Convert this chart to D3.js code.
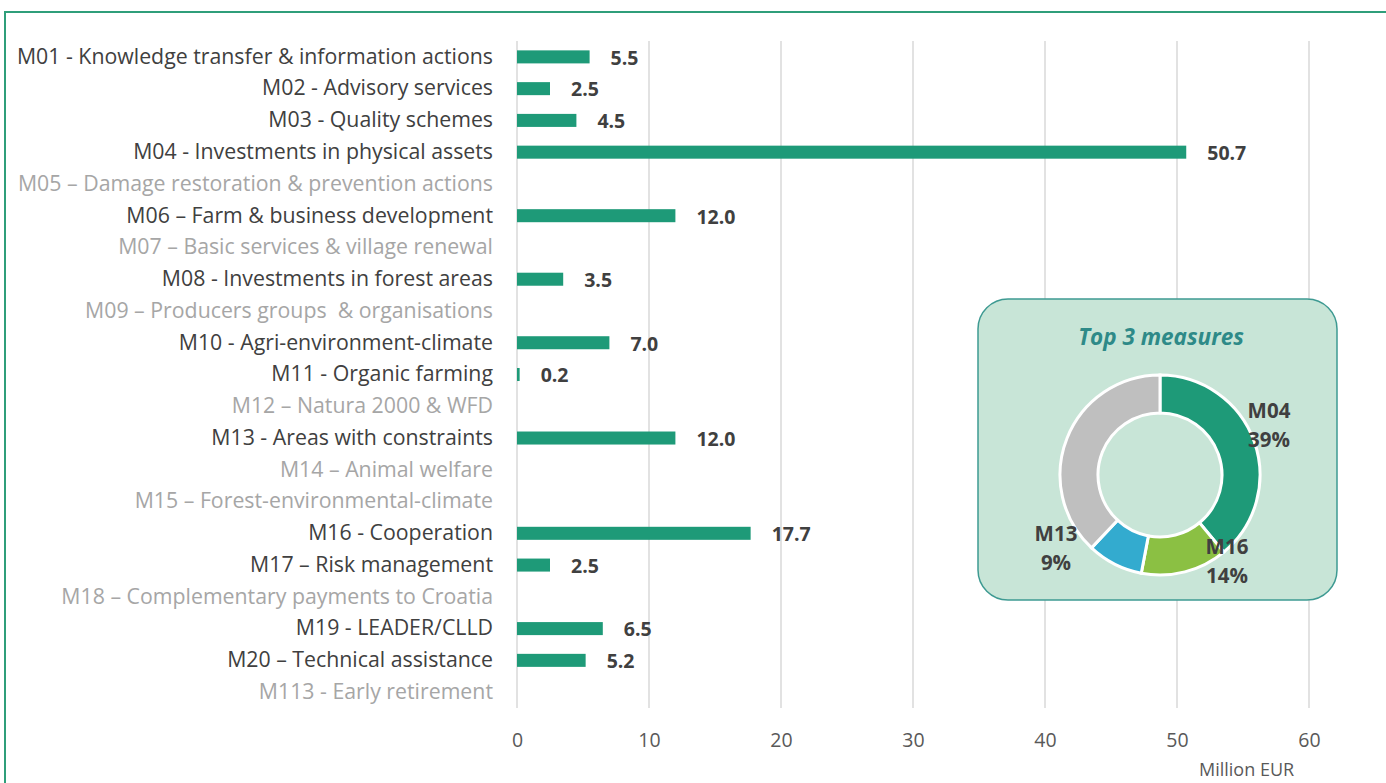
<!DOCTYPE html>
<html>
<head>
<meta charset="utf-8">
<script src="https://cdn.jsdelivr.net/npm/d3@7"></script>
<style>
  body { margin: 0; background: #fff; }
  svg { display: block; font-family: "Open Sans", sans-serif; }
  svg text { white-space: pre; }
</style>
</head>
<body>
<div id="chart"></div>
<script>
// Measures and amounts (million EUR); null = measure not programmed
var measures = [
    "M01 - Knowledge transfer & information actions",
    "M02 - Advisory services",
    "M03 - Quality schemes",
    "M04 - Investments in physical assets",
    "M05 – Damage restoration & prevention actions",
    "M06 – Farm & business development",
    "M07 – Basic services & village renewal",
    "M08 - Investments in forest areas",
    "M09 – Producers groups  & organisations",
    "M10 - Agri-environment-climate",
    "M11 - Organic farming",
    "M12 – Natura 2000 & WFD",
    "M13 - Areas with constraints",
    "M14 – Animal welfare",
    "M15 – Forest-environmental-climate",
    "M16 - Cooperation",
    "M17 – Risk management",
    "M18 – Complementary payments to Croatia",
    "M19 - LEADER/CLLD",
    "M20 – Technical assistance",
    "M113 - Early retirement"
];
var amounts = [5.5, 2.5, 4.5, 50.7, null, 12.0, null, 3.5, null, 7.0, 0.2, null, 12.0, null, null, 17.7, 2.5, null, 6.5, 5.2, null];
var xTicks = [0, 10, 20, 30, 40, 50, 60];

// Donut: top 3 measures share
var topNames = ["M04", "M16", "M13", "Others"];
var topShares = [39, 14, 9, 38];
var topColors = ["#1e9a78", "#8bc043", "#33abcf", "#bfbfbf"];

var width = 1386, height = 783;

var svg = d3.select("#chart")
    .append("svg")
    .attr("width", width)
    .attr("height", height);

// outer green frame
svg.append("path")
    .attr("d", "M5,783 L5,12 L1386,12")
    .attr("fill", "none")
    .attr("stroke", "#2f9e7a")
    .attr("stroke-width", 2);

var x = d3.scaleLinear().domain([0, 60]).range([517, 1309]);
var y = d3.scaleBand().domain(measures).range([41, 708]).paddingInner(0.59).paddingOuter(0.295);

// gridlines
svg.append("g")
    .selectAll("line")
    .data(xTicks)
    .enter().append("line")
    .attr("x1", d => x(d)).attr("x2", d => x(d))
    .attr("y1", 41).attr("y2", 708)
    .attr("stroke", "#d9d9d9")
    .attr("stroke-width", 1.5);

// x axis labels
var xAxis = d3.axisBottom(x).tickValues(xTicks).tickSize(0).tickPadding(0);
var gx = svg.append("g").attr("transform", "translate(0,740)").call(xAxis);
gx.select(".domain").remove();
gx.selectAll("text")
    .attr("font-size", 19.5)
    .attr("font-family", "Open Sans, sans-serif")
    .attr("fill", "#595959")
    .attr("dy", "0.35em");

svg.append("text")
    .attr("x", 1199).attr("y", 776)
    .attr("font-size", 18)
    .attr("fill", "#595959")
    .text("Million EUR");

// category labels
var yAxis = d3.axisLeft(y).tickSize(0).tickPadding(0);
var gy = svg.append("g").attr("transform", "translate(493,0)").call(yAxis);
gy.select(".domain").remove();
gy.selectAll("text")
    .attr("font-size", 21.3)
    .attr("font-family", "Open Sans, sans-serif")
    .attr("fill", (d, i) => amounts[i] == null ? "#a6a6a6" : "#404040");

// bars
var rows = measures.map((m, i) => ({ name: m, value: amounts[i] })).filter(d => d.value != null);

svg.append("g")
    .selectAll("rect")
    .data(rows)
    .enter().append("rect")
    .attr("x", x(0))
    .attr("y", d => y(d.name))
    .attr("width", d => x(d.value) - x(0))
    .attr("height", y.bandwidth())
    .attr("fill", "#1e9a78");

svg.append("g")
    .selectAll("text")
    .data(rows)
    .enter().append("text")
    .attr("x", d => x(d.value) + 21)
    .attr("y", d => y(d.name) + y.bandwidth() / 2 + 1)
    .attr("dy", "0.35em")
    .attr("font-size", 19.5)
    .attr("font-weight", "bold")
    .attr("fill", "#404040")
    .text(d => d.value.toFixed(1));

// donut panel
var panel = svg.append("g");
panel.append("rect")
    .attr("x", 978).attr("y", 299)
    .attr("width", 359).attr("height", 301)
    .attr("rx", 30).attr("ry", 30)
    .attr("fill", "#c8e5d7")
    .attr("stroke", "#3e9a92")
    .attr("stroke-width", 1.5);

panel.append("text")
    .attr("x", 1161).attr("y", 345)
    .attr("text-anchor", "middle")
    .attr("font-size", 22.5)
    .attr("font-weight", "bold")
    .attr("font-style", "italic")
    .attr("fill", "#2e8a88")
    .text("Top 3 measures");

var cx = 1160, cy = 475;
var pie = d3.pie().sort(null).value(d => d.share);
var arc = d3.arc().innerRadius(62).outerRadius(100);
var slices = pie(topNames.map((n, i) => ({ name: n, share: topShares[i], color: topColors[i] })));

panel.append("g")
    .attr("transform", `translate(${cx},${cy})`)
    .selectAll("path")
    .data(slices)
    .enter().append("path")
    .attr("d", arc)
    .attr("fill", d => d.data.color)
    .attr("stroke", "#fff")
    .attr("stroke-width", 3);

// donut labels (placed beside their slices)
var labelPos = { M04: [1269, 418], M16: [1227, 554], M13: [1056, 541] };
var lbl = panel.append("g")
    .selectAll("text")
    .data(slices.filter(d => labelPos[d.data.name]))
    .enter().append("text")
    .attr("text-anchor", "middle")
    .attr("font-size", 20.5)
    .attr("font-weight", "bold")
    .attr("fill", "#404040");
lbl.append("tspan")
    .attr("x", d => labelPos[d.data.name][0])
    .attr("y", d => labelPos[d.data.name][1])
    .text(d => d.data.name);
lbl.append("tspan")
    .attr("x", d => labelPos[d.data.name][0])
    .attr("y", d => labelPos[d.data.name][1] + 29)
    .text(d => d.data.share + "%");
</script>
</body>
</html>
